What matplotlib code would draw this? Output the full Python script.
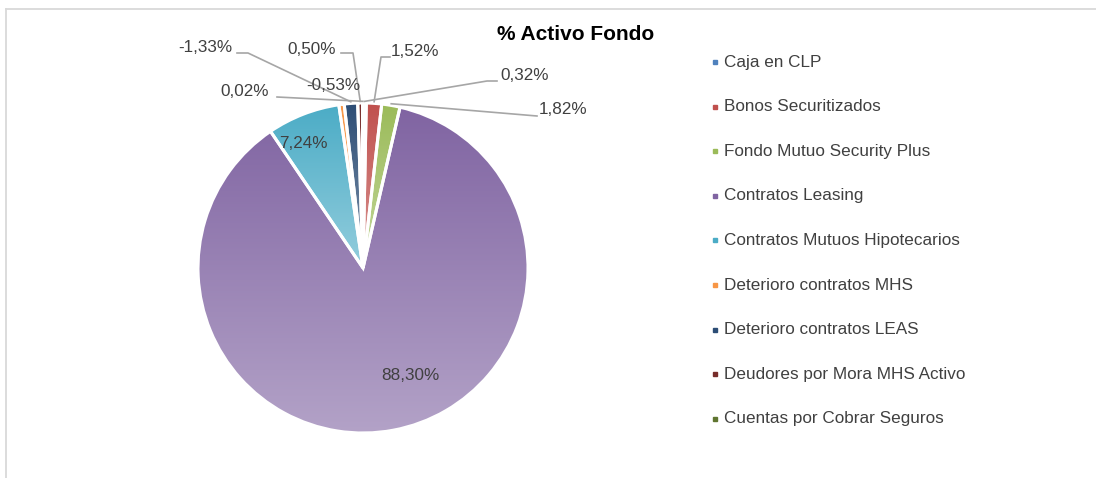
import numpy as np
import matplotlib
matplotlib.use("Agg")
import matplotlib.pyplot as plt
from matplotlib.colors import to_rgb
from matplotlib.lines import Line2D

plt.rcParams['font.family'] = ['Liberation Sans', 'DejaVu Sans']

# ---- data ----
categories = ["Caja en CLP", "Bonos Securitizados", "Fondo Mutuo Security Plus",
              "Contratos Leasing", "Contratos Mutuos Hipotecarios",
              "Deterioro contratos MHS", "Deterioro contratos LEAS",
              "Deudores por Mora MHS Activo", "Cuentas por Cobrar Seguros"]
values = [0.32, 1.52, 1.82, 88.30, 7.24, -0.53, -1.33, 0.50, 0.02]
labels = ["0,32%", "1,52%", "1,82%", "88,30%", "7,24%", "-0,53%", "-1,33%", "0,50%", "0,02%"]
colors = ["#4F81BD", "#C0504D", "#9BBB59", "#8064A2", "#4BACC6",
          "#F79646", "#2C4D75", "#772C2A", "#5F7530"]
title = "% Activo Fondo"

W, H = 1096, 478
fig = plt.figure(figsize=(W / 100, H / 100), dpi=100)
fig.patch.set_facecolor("white")

# chart-area border
fig.add_artist(Line2D([6 / W, 6 / W], [0, 1 - 9 / H], transform=fig.transFigure,
                      color="#D9D9D9", lw=1.3))
fig.add_artist(Line2D([6 / W, 1], [1 - 9 / H, 1 - 9 / H], transform=fig.transFigure,
                      color="#D9D9D9", lw=1.3))

cx, cy, R = 363, 268, 165
ax = fig.add_axes([(cx - R) / W, (H - cy - R) / H, 2 * R / W, 2 * R / H])
ax.axis("off")

def px(x, y):
    return ((x - cx) / R, (cy - y) / R)

abs_vals = np.abs(values)
wedges, _ = ax.pie(abs_vals, startangle=90, counterclock=False, radius=1,
                   colors=colors, wedgeprops=dict(edgecolor="white", linewidth=2.2))
ax.set_xlim(-1, 1)
ax.set_ylim(-1, 1)
ax.set_aspect("equal")

# vertical gradient fill per slice (darker at top, lighter at bottom)
ny = 256
t = np.linspace(0, 1, ny)[:, None]
for w, c in zip(wedges, colors):
    base = np.array(to_rgb(c))
    light = base + (1 - base) * 0.40
    grad = base[None, :] * (1 - t) + light[None, :] * t
    img = np.repeat(grad[:, None, :], 2, axis=1)
    ext = w.get_path().get_extents()
    im = ax.imshow(img, extent=(ext.x0, ext.x1, ext.y0, ext.y1), origin="upper",
                   aspect="auto", zorder=w.get_zorder() + 0.1, interpolation="bilinear")
    im.set_clip_path(w)
    w.set_facecolor("none")
    w.set_zorder(w.get_zorder() + 0.2)
ax.set_xlim(-1, 1)
ax.set_ylim(-1, 1)

# data labels: text position (pixels) and leader line (pixels)
label_pos = {
    0: (525, 75), 1: (415, 52), 2: (563, 109), 3: (410, 376), 4: (303, 143),
    5: (333, 85), 6: (205, 47), 7: (312, 50), 8: (245, 92),
}
leaders = {
    0: [(497, 81), (487, 81)],
    1: [(390, 57), (381, 57)],
    2: [(537, 116)],
    6: [(237, 53), (248, 53)],
    7: [(341, 53), (353, 53)],
    8: [(277, 97)],
}
cum = np.cumsum(abs_vals)
tot = cum[-1]
for i, lab in enumerate(labels):
    x, y = px(*label_pos[i])
    ax.text(x, y, lab, ha="center", va="center", fontsize=12.3, color="#404040",
            clip_on=False, zorder=10)
    if i in leaders:
        mid = (cum[i] - abs_vals[i] / 2) / tot
        ang = np.deg2rad(90 - 360 * mid)
        ex, ey = 1.01 * np.cos(ang), 1.01 * np.sin(ang)
        pts = [px(*p) for p in leaders[i]] + [(ex, ey)]
        xs, ys = zip(*pts)
        ax.plot(xs, ys, color="#A6A6A6", lw=1.2, clip_on=False, zorder=9)

fig.text(576 / W, 1 - 35 / H, title, ha="center", va="center", fontsize=15,
         fontweight="bold", color="black")

# legend
y0, dy = 62, 44.6
for i, (cat, c) in enumerate(zip(categories, colors)):
    yy = 1 - (y0 + i * dy) / H
    fig.patches.append(plt.Rectangle((713 / W, yy - 2 / H), 4 / W, 4 / H,
                                     transform=fig.transFigure, color=c))
    fig.text(724 / W, yy, cat, ha="left", va="center", fontsize=12.3, color="#404040")

fig.savefig("out.png", dpi=100, facecolor="white")
